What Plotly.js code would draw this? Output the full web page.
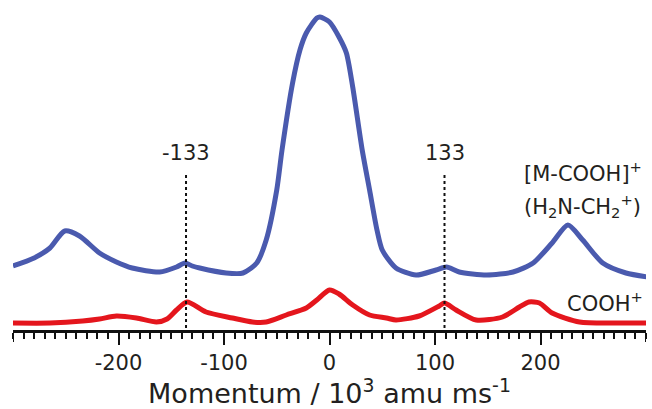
<!DOCTYPE html>
<html>
<head>
<meta charset="utf-8">
<script src="https://cdn.plot.ly/plotly-3.0.1.min.js"></script>
<style>html,body{margin:0;padding:0;background:#fff;}#chart{width:652px;height:409px;}</style>
</head>
<body>
<div id="chart"></div>
<script>
// Blue: [M-COOH]+ (H2N-CH2+)
var blueX = [-300,-280,-265,-251,-237,-218,-202,-187,-161,-145,-137,-130,-123,-98,-82,-69,-60,-50,-45,-35,-28,-22,-12,-9,0,9,16,22,31,38,45,50,63,82,101,111,123,149,174,193,211,226,240,259,281,301];
var blueY = [64,72,82,99,94,77,68,62,58,63,67,64,62,57,57,67,90,140,180,247,280,297,312,313,308,293,277,243,180,140,100,80,62,55,60,63,58,55,58,67,87,105,90,67,57,53];
// Red: COOH+
var redX = [-300,-265,-234,-218,-202,-183,-164,-154,-145,-135,-117,-92,-73,-60,-41,-22,-12,0,9,22,38,54,63,85,104,109,120,139,164,180,189,199,211,237,270,301];
var redY = [7,7,9,11,14,12,8,11,20,28,18,12,8,8,15,22,30,40,36,25,15,12,10,14,24,27,20,10,13,23,28,27,17,8,7,7];
// Dotted marker lines and their labels
var markX = [-136, 109];
var markLabels = ["-133", "133"];
var tickVals = [-200,-100,0,100,200];
var tickText = ["-200","-100","0","100","200"];
var axisEnds = [-300, 300];
var seriesLabels = ["[M-COOH]<sup>+</sup>", "(H<sub>2</sub>N-CH<sub>2</sub><sup>+</sup>)", "COOH<sup>+</sup>"];

var textColor = "#231f20";
var fontFam = "DejaVu Sans, Liberation Sans, Arial, sans-serif";
var traces = [
  {x: blueX, y: blueY, type: "scatter", mode: "lines", line: {color: "#4a5aae", width: 5, shape: "spline", smoothing: 0.7}, hoverinfo: "none"},
  {x: redX, y: redY, type: "scatter", mode: "lines", line: {color: "#e4161d", width: 5, shape: "spline", smoothing: 0.7}, hoverinfo: "none"}
];
var shapes = markX.map(function(x){
  return {type: "line", xref: "x", yref: "y", x0: x, x1: x, y0: 2, y1: 157, line: {color: "#111", width: 2, dash: "dot"}};
});
axisEnds.forEach(function(x){
  shapes.push({type: "line", xref: "x", yref: "paper", x0: x, x1: x, y0: 0, y1: -12/330, line: {color: "#111", width: 2}});
});
var annotations = markX.map(function(x, i){
  return {x: x, y: 177, xref: "x", yref: "y", text: markLabels[i], showarrow: false, font: {size: 21, color: textColor}};
});
annotations.push({x: 240, y: 158, xref: "x", yref: "y", text: seriesLabels[0], showarrow: false, font: {size: 21, color: textColor}});
annotations.push({x: 240, y: 124, xref: "x", yref: "y", text: seriesLabels[1], showarrow: false, font: {size: 21, color: textColor}});
annotations.push({x: 261, y: 28, xref: "x", yref: "y", text: seriesLabels[2], showarrow: false, font: {size: 21, color: textColor}});

var layout = {
  width: 652, height: 409,
  margin: {l: 13, r: 6, t: 0, b: 79},
  paper_bgcolor: "#fff", plot_bgcolor: "#fff",
  showlegend: false,
  font: {family: fontFam, color: textColor},
  xaxis: {
    range: [-300, 300], showgrid: false, zeroline: false,
    showline: true, linecolor: "#111", linewidth: 2.5,
    tickmode: "array", tickvals: tickVals, ticktext: tickText,
    ticks: "outside", ticklen: 12, tickwidth: 2, tickcolor: "#111",
    tickfont: {size: 21, color: textColor, family: fontFam},
    minor: {tickmode: "linear", tick0: 0, dtick: 10, ticks: "outside", ticklen: 6, tickwidth: 2, tickcolor: "#111", showgrid: false},
    title: {text: "Momentum / 10<sup>3</sup> amu ms<sup>-1</sup>", font: {size: 27, color: textColor, family: fontFam}, standoff: 11},
    fixedrange: true
  },
  yaxis: {range: [0, 330], visible: false, fixedrange: true},
  shapes: shapes,
  annotations: annotations
};
Plotly.newPlot("chart", traces, layout, {displayModeBar: false, staticPlot: true});
</script>
</body>
</html>
